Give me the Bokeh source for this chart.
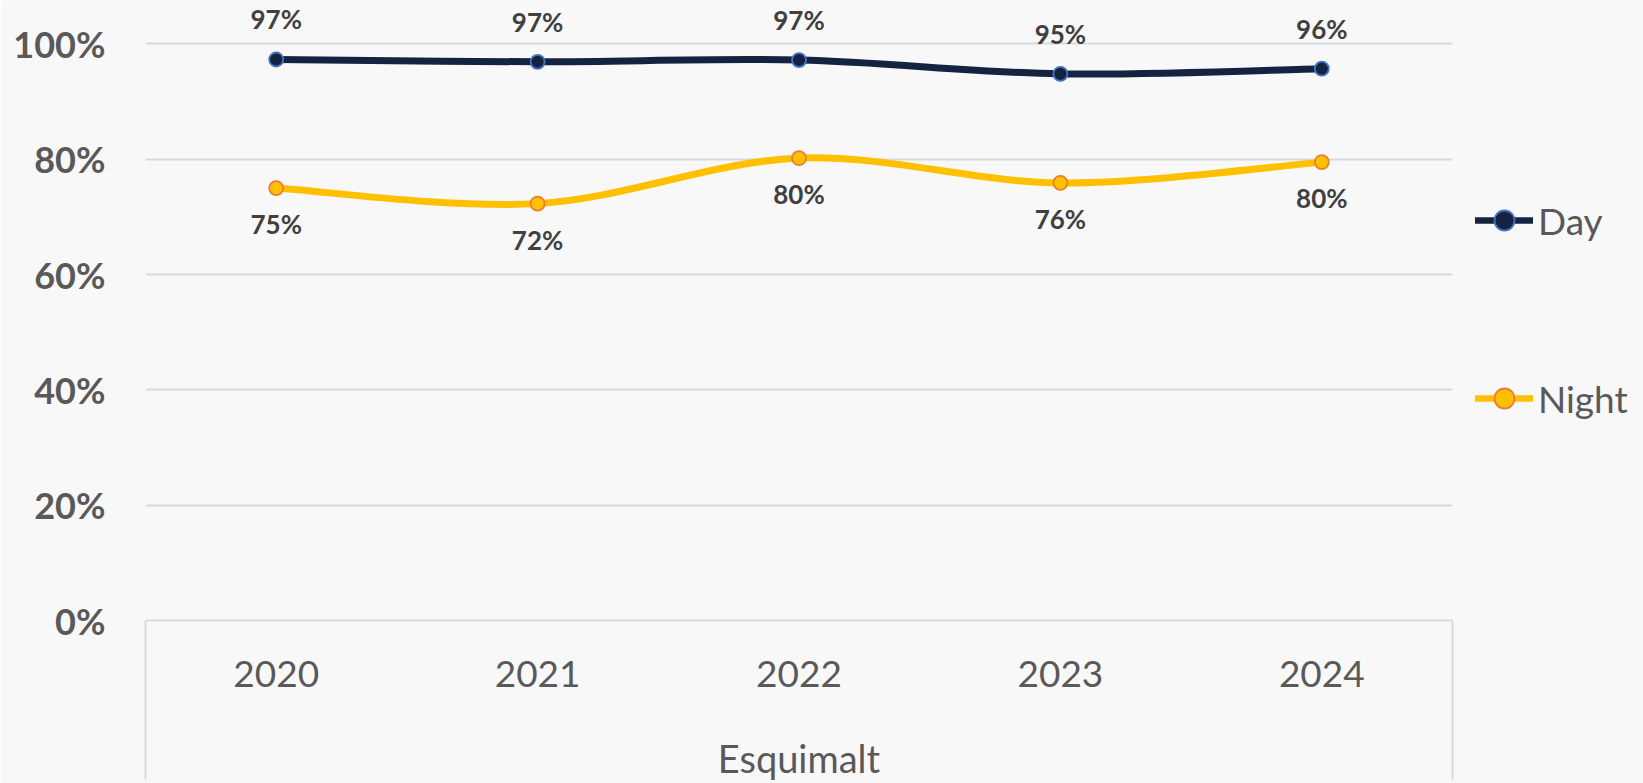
import numpy as np
from bokeh.plotting import figure
from bokeh.models import (Range1d, FixedTicker, NumeralTickFormatter, Legend, LegendItem,
                          ColumnDataSource, LinearAxis)
from bokeh.core.properties import value
from bokeh.embed import file_html
from bokeh.resources import INLINE

# ---- data ----
years = ["2020", "2021", "2022", "2023", "2024"]
day = [0.973, 0.969, 0.972, 0.948, 0.957]
night = [0.750, 0.723, 0.802, 0.759, 0.795]
day_labels = ["97%", "97%", "97%", "95%", "96%"]
night_labels = ["75%", "72%", "80%", "76%", "80%"]
group_label = "Esquimalt"
y_ticks = [0, 0.2, 0.4, 0.6, 0.8, 1.0]

FONT = "Lato"
BG = "#F8F8F8"
GRID = "#D9D9D9"
DAY_C = "#14233F"
DAY_EDGE = "#4472C4"
NIGHT_C = "#FFC000"
NIGHT_EDGE = "#ED7D31"

xs = list(range(len(years)))
BOX_TICK = 159
X_LO, X_HI = -0.5, len(years) - 0.5
X_MID = (X_LO + X_HI) / 2

p = figure(width=1643, height=783, output_backend="svg", toolbar_location=None,
           x_range=Range1d(X_LO, 5.2307), y_range=Range1d(0, 1.0753),
           min_border_left=145, min_border_right=0, min_border_top=0, min_border_bottom=159)
p.background_fill_color = BG
p.border_fill_color = BG
p.outline_line_color = None

# grid
p.xgrid.visible = False
p.ygrid.ticker = FixedTicker(ticks=y_ticks)
p.ygrid.grid_line_color = GRID
p.ygrid.grid_line_width = 2
p.ygrid.cross_bounds = (X_LO, X_HI)

# y axis
p.yaxis.ticker = FixedTicker(ticks=y_ticks)
p.yaxis.formatter = NumeralTickFormatter(format="0%")
p.yaxis.axis_line_color = None
p.yaxis.major_tick_line_color = None
p.yaxis.minor_tick_line_color = None
p.yaxis.major_tick_out = 0
p.yaxis.major_tick_in = 0
p.yaxis.major_label_standoff = 40
p.yaxis.major_label_text_font = FONT
p.yaxis.major_label_text_font_style = "bold"
p.yaxis.major_label_text_font_size = "36px"
p.yaxis.major_label_text_color = "#595959"

# x axis (category box)
xa = p.xaxis[0]
xa.bounds = (X_LO, X_HI)
xa.ticker = FixedTicker(ticks=xs, minor_ticks=[X_LO + 0.0005, X_HI - 0.0005])
xa.major_label_overrides = {i: y for i, y in enumerate(years)}
xa.axis_line_color = GRID
xa.axis_line_width = 2
xa.major_tick_line_color = None
xa.major_tick_out = 0
xa.major_tick_in = 0
xa.minor_tick_line_color = GRID
xa.minor_tick_line_width = 2
xa.minor_tick_out = BOX_TICK
xa.minor_tick_in = 0
xa.major_label_standoff = 40 - BOX_TICK
xa.major_label_text_font = FONT
xa.major_label_text_font_size = "37px"
xa.major_label_text_color = "#595959"

# group level of the category axis
ga = LinearAxis(ticker=FixedTicker(ticks=[X_MID]), bounds=(X_LO, X_HI),
                major_label_overrides={X_MID: group_label})
ga.axis_line_color = None
ga.major_tick_line_color = None
ga.minor_tick_line_color = None
ga.major_tick_out = 0
ga.major_tick_in = 0
ga.major_label_standoff = 45
ga.major_label_text_font = FONT
ga.major_label_text_font_size = "38px"
ga.major_label_text_color = "#595959"
p.add_layout(ga, "below")


def smooth_segments(x, y):
    n = len(x)
    P = [np.array([x[i], y[i]], dtype=float) for i in range(n)]
    seg = dict(x0=[], y0=[], x1=[], y1=[], cx0=[], cy0=[], cx1=[], cy1=[])
    for i in range(n - 1):
        pm = P[i - 1] if i > 0 else P[i]
        pp = P[i + 2] if i + 2 < n else P[i + 1]
        c0 = P[i] + (P[i + 1] - pm) / 6.0
        c1 = P[i + 1] - (pp - P[i]) / 6.0
        seg["x0"].append(P[i][0]); seg["y0"].append(P[i][1])
        seg["x1"].append(P[i + 1][0]); seg["y1"].append(P[i + 1][1])
        seg["cx0"].append(c0[0]); seg["cy0"].append(c0[1])
        seg["cx1"].append(c1[0]); seg["cy1"].append(c1[1])
    return ColumnDataSource(seg)


items = []
for name, vals, labels, col, edge, yoff in [
        ("Day", day, day_labels, DAY_C, DAY_EDGE, -40),
        ("Night", night, night_labels, NIGHT_C, NIGHT_EDGE, 36)]:
    src = smooth_segments(xs, vals)
    p.bezier(x0="x0", y0="y0", x1="x1", y1="y1", cx0="cx0", cy0="cy0", cx1="cx1", cy1="cy1",
             source=src, line_color=col, line_width=7, line_cap="round")
    # zero-length line (hidden under a marker) that gives the legend its line swatch
    key = p.line(x=[xs[0], xs[0]], y=[vals[0], vals[0]], line_color=col, line_width=6.5,
                 line_cap="round")
    pts = p.scatter(x=xs, y=vals, size=14, fill_color=col, line_color=edge, line_width=1.8)
    p.text(x=xs, y=vals, text=labels, text_align="center", text_baseline="middle",
           y_offset=yoff, text_font=value(FONT), text_font_style="bold",
           text_font_size="26px", text_color="#404040")
    items.append(LegendItem(label=name, renderers=[key, pts]))

legend = Legend(items=items, location=(1330, 197), orientation="vertical",
                glyph_width=58, glyph_height=50, label_height=50, label_width=60,
                spacing=128, padding=0, margin=0, label_standoff=5,
                label_text_font=FONT, label_text_font_size="37px",
                label_text_color="#595959", border_line_color=None,
                background_fill_alpha=0)
p.add_layout(legend)

open("out.html", "w").write(file_html(p, INLINE))
